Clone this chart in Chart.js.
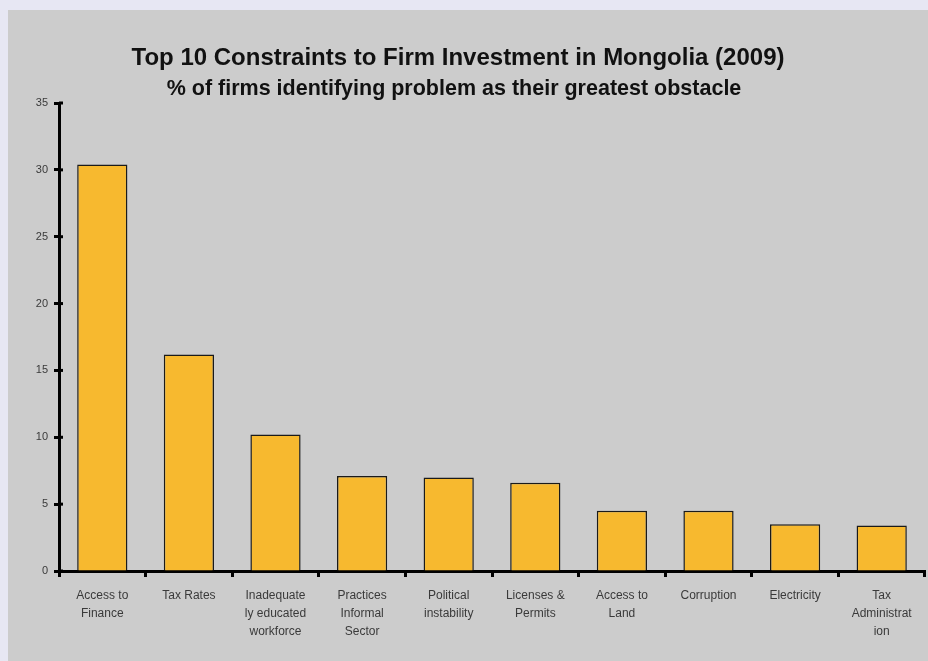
<!DOCTYPE html>
<html lang="en">
<head>
    <meta charset="UTF-8">
    <title>Top 10 Constraints to Firm Investment in Mongolia</title>
    <script src="https://cdn.jsdelivr.net/npm/chart.js"></script>
    <style>
        body {
            margin: 0;
            background-color: #e7e7f3;
            font-family: Arial, sans-serif;
        }

        #chartPanel {
            position: absolute;
            left: 8px;
            top: 10px;
            width: 920px;
            height: 651px;
            background-color: #cccccc;
        }
    </style>
</head>
<body>
<div id="chartPanel">
    <canvas id="constraintsChart" width="920" height="651"></canvas>
</div>

<script>
    const chartTitle = 'Top 10 Constraints to Firm Investment in Mongolia (2009)';
    const chartSubtitle = '% of firms identifying problem as their greatest obstacle';
    const constraints = [
        ['Access to', 'Finance'],
        'Tax Rates',
        ['Inadequate', 'ly educated', 'workforce'],
        ['Practices', 'Informal', 'Sector'],
        ['Political', 'instability'],
        ['Licenses &', 'Permits'],
        ['Access to', 'Land'],
        'Corruption',
        'Electricity',
        ['Tax', 'Administrat', 'ion']
    ];
    const firmShares = [30.4, 16.2, 10.2, 7.1, 7.0, 6.6, 4.5, 4.5, 3.5, 3.4];
    const yTicks = [0, 5, 10, 15, 20, 25, 30, 35];

    // title block is a bit left of the canvas centre in the original, so draw it by hand
    const headingPlugin = {
        id: 'heading',
        afterDraw(chart) {
            const c = chart.ctx;
            c.save();
            c.fillStyle = '#111111';
            c.textAlign = 'center';
            c.textBaseline = 'middle';
            c.font = 'bold 24px Arial';
            c.fillText(chartTitle, 450, 48);
            c.font = 'bold 21.5px Arial';
            c.fillText(chartSubtitle, 446, 79);
            c.restore();
        }
    };

    // y ticks cross the axis line on both sides
    const innerTicksPlugin = {
        id: 'innerTicks',
        afterDraw(chart) {
            const y = chart.scales.y;
            const c = chart.ctx;
            c.save();
            c.strokeStyle = '#000000';
            c.lineWidth = 3;
            yTicks.forEach(v => {
                const py = y.getPixelForValue(v);
                c.beginPath();
                c.moveTo(y.right, py);
                c.lineTo(y.right + 4, py);
                c.stroke();
            });
            c.restore();
        }
    };

    const ctx = document.getElementById('constraintsChart').getContext('2d');
    new Chart(ctx, {
        type: 'bar',
        data: {
            labels: constraints,
            datasets: [{
                data: firmShares,
                backgroundColor: '#f7b92f',
                borderColor: '#1a1a1a',
                borderWidth: 1.5,
                borderSkipped: 'bottom',
                categoryPercentage: 1.0,
                barPercentage: 0.58
            }]
        },
        plugins: [headingPlugin, innerTicksPlugin],
        options: {
            responsive: false,
            animation: false,
            layout: {
                padding: { left: 11, right: 3, top: 93, bottom: 10 }
            },
            plugins: {
                legend: { display: false },
                tooltip: { enabled: false }
            },
            scales: {
                x: {
                    grid: {
                        display: true,
                        drawOnChartArea: false,
                        drawTicks: true,
                        tickLength: 6,
                        tickWidth: 3,
                        tickColor: '#000000'
                    },
                    border: { display: true, color: '#000000', width: 3 },
                    ticks: {
                        color: '#3a3a3a',
                        padding: 10,
                        autoSkip: false,
                        maxRotation: 0,
                        font: { family: 'Arial', size: 12, lineHeight: 1.5 }
                    }
                },
                y: {
                    min: 0,
                    max: 35,
                    afterBuildTicks: scale => {
                        scale.ticks = yTicks.map(v => ({ value: v }));
                    },
                    afterFit: scale => {
                        scale.width = 40;
                    },
                    grid: {
                        display: true,
                        drawOnChartArea: false,
                        drawTicks: true,
                        tickLength: 5,
                        tickWidth: 3,
                        tickColor: '#000000'
                    },
                    border: { display: true, color: '#000000', width: 3 },
                    ticks: {
                        color: '#3a3a3a',
                        padding: 6,
                        font: { family: 'Arial', size: 11 }
                    }
                }
            }
        }
    });
</script>
</body>
</html>
